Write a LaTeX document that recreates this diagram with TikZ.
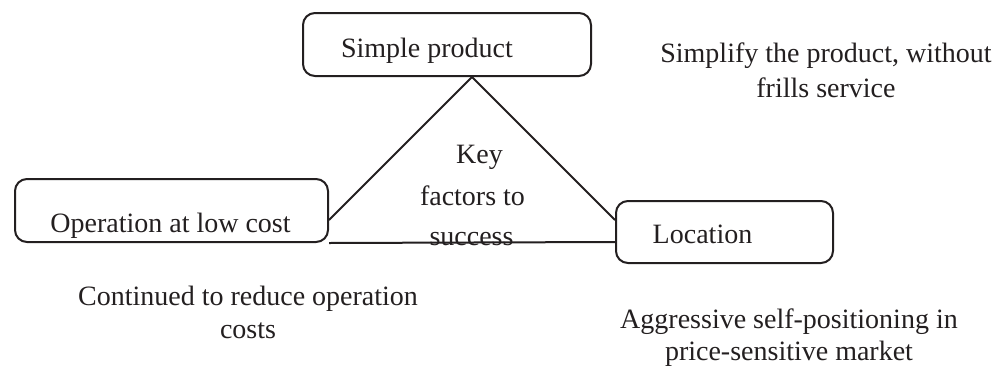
\documentclass[tikz,border=0pt]{standalone}
\usepackage{fontspec}
\setmainfont{Liberation Serif}
\definecolor{ink}{HTML}{231F20}
\begin{document}
\begin{tikzpicture}[x=1pt,y=-1pt,
  box/.style={draw=ink, line width=2pt, rounded corners=12pt, inner sep=0pt},
  lbl/.style={inner sep=0pt, anchor=base, text=ink, font=\fontsize{28}{35}\selectfont},
  para/.style={inner sep=0pt, anchor=base, text=ink, align=center},
  link/.style={draw=ink, line width=2pt}]
\useasboundingbox (0,0) rectangle (999,373);
% boxes
\node[box, minimum width=288pt, minimum height=63pt] (sp) at (447,44.5) {};
\node[box, minimum width=313pt, minimum height=63pt] (op) at (171.5,210.5) {};
\node[box, minimum width=217pt, minimum height=62pt] (loc) at (724.5,232) {};
% box texts
\node[lbl] (spt) at (427,57) {Simple product};
\node[lbl] (opt) at (170.5,232) {Operation at low cost};
\node[lbl] (loct) at (702.5,243) {Location};
% triangle
\coordinate (apex) at ([xshift=25pt]sp.south);
\draw[link] ([yshift=-9.5pt]op.east) -- (apex) -- ([yshift=12pt]loc.west);
\draw[link] (op.south east) -- ([yshift=-10pt]loc.west);
% centre text
\node[lbl] (k1) at (479.5,163) {Key};
\node[lbl] (k2) at (472.5,205) {factors to};
\node[lbl] (k3) at (471.5,245) {success};
% descriptions
\node[para, font=\fontsize{28}{35}\selectfont] (d1) at (826,97) {Simplify the product, without\\frills service};
\node[para, font=\fontsize{28}{33}\selectfont] (d2) at (248,338) {Continued to reduce operation\\costs};
\node[para, font=\fontsize{28}{32}\selectfont] (d3) at (789,360) {Aggressive self-positioning in\\price-sensitive market};
\end{tikzpicture}
\end{document}
